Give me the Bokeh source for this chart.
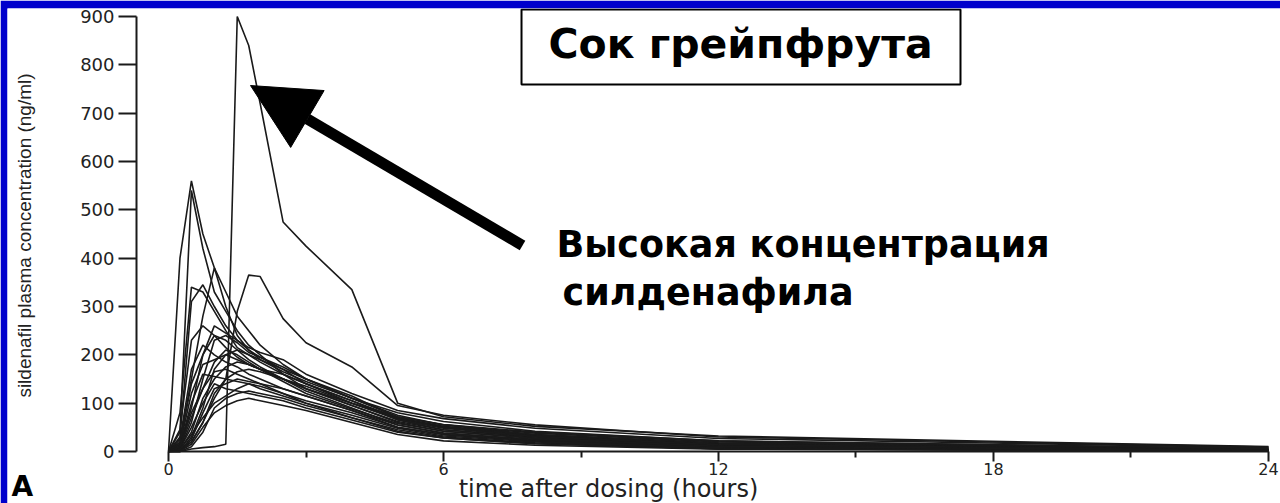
import math
from bokeh.plotting import figure
from bokeh.models import (Range1d, FixedTicker, Label, BoxAnnotation, Arrow, NormalHead)
from bokeh.embed import file_html
from bokeh.resources import INLINE

# ---- data: sampling times (hours) and plasma concentration per subject (ng/ml)
times = [0, 0.25, 0.5, 0.75, 1, 1.25, 1.5, 1.75, 2, 2.5, 3, 4, 5, 6, 8, 12, 24]

s01 = [0, 0, 5, 8, 10, 15, 900, 840, 720, 475, 425, 335, 100, 72, 52, 32, 10]
s02 = [0, 400, 560, 450, 380, 330, 280, 250, 220, 180, 150, 110, 75, 55, 35, 18, 4]
s03 = [0, 40, 540, 420, 330, 290, 250, 220, 200, 160, 130, 95, 62, 45, 30, 14, 3]
s04 = [0, 5, 20, 60, 110, 150, 290, 365, 362, 275, 225, 175, 95, 75, 55, 30, 9]
s05 = [0, 80, 340, 330, 290, 250, 215, 200, 185, 160, 140, 100, 68, 50, 33, 16, 4]
s06 = [0, 30, 310, 345, 300, 260, 230, 210, 190, 165, 145, 110, 80, 62, 42, 22, 6]
s07 = [0, 20, 150, 280, 380, 300, 240, 210, 195, 170, 140, 105, 70, 52, 35, 17, 4]
s08 = [0, 10, 90, 200, 260, 245, 230, 215, 205, 190, 160, 120, 85, 68, 48, 27, 8]
s09 = [0, 5, 60, 150, 230, 240, 225, 205, 195, 175, 150, 115, 70, 50, 32, 14, 3]
s10 = [0, 15, 120, 180, 190, 200, 210, 200, 190, 170, 150, 110, 72, 55, 38, 20, 5]
s11 = [0, 0, 30, 90, 170, 200, 190, 180, 170, 150, 125, 90, 55, 38, 24, 10, 2]
s12 = [0, 25, 170, 220, 200, 185, 175, 160, 150, 130, 115, 85, 50, 35, 22, 9, 2]
s13 = [0, 3, 40, 110, 150, 175, 185, 180, 170, 160, 140, 105, 65, 45, 30, 12, 3]
s14 = [0, 8, 70, 130, 165, 170, 160, 150, 140, 120, 100, 70, 45, 30, 18, 7, 1]
s15 = [0, 0, 20, 60, 120, 150, 165, 170, 165, 150, 130, 95, 60, 42, 28, 12, 3]
s16 = [0, 12, 100, 160, 155, 150, 145, 140, 135, 120, 105, 80, 50, 35, 22, 9, 2]
s17 = [0, 2, 25, 80, 130, 140, 150, 145, 140, 130, 115, 85, 55, 38, 25, 10, 2]
s18 = [0, 6, 50, 100, 140, 130, 125, 120, 115, 105, 90, 65, 40, 28, 16, 6, 1]
s19 = [0, 0, 10, 40, 90, 110, 120, 125, 120, 110, 95, 70, 42, 28, 16, 6, 1]
s20 = [0, 18, 140, 200, 240, 230, 210, 190, 175, 150, 130, 100, 72, 56, 40, 22, 6]
s21 = [0, 4, 35, 70, 100, 115, 130, 140, 130, 115, 100, 75, 48, 32, 20, 8, 2]
s22 = [0, 45, 230, 260, 240, 215, 195, 180, 170, 150, 135, 100, 66, 48, 31, 14, 3]
s23 = [0, 1, 15, 50, 80, 95, 105, 110, 105, 95, 85, 60, 35, 22, 13, 5, 1]
s24 = [0, 10, 80, 130, 185, 210, 200, 185, 170, 145, 120, 88, 58, 42, 27, 11, 2]

subjects = [s01, s02, s03, s04, s05, s06, s07, s08, s09, s10, s11, s12,
            s13, s14, s15, s16, s17, s18, s19, s20, s21, s22, s23, s24]

x_ticks = [0, 6, 12, 18, 24]
x_minor_ticks = [3, 9, 15, 21]
y_ticks = [0, 100, 200, 300, 400, 500, 600, 700, 800, 900]

title_text = "Сок грейпфрута"
note_line1 = "Высокая концентрация"
note_line2 = "силденафила"
x_label = "time after dosing (hours)"
y_label = "sildenafil plasma concentration (ng/ml)"
panel_letter = "A"

# ---- figure: blue slide edge = top/left border; frame covers the rest,
#      axes sit at fixed data positions inside the frame
p = figure(width=1280, height=503,
           x_range=Range1d(-3.513, 24.262), y_range=Range1d(-107.6, 916.6),
           output_backend="svg", toolbar_location=None,
           min_border_left=7, min_border_right=0,
           min_border_top=8, min_border_bottom=0)
p.outline_line_color = None
p.grid.visible = False
p.background_fill_color = "white"
p.border_fill_color = "#0000cc"

ink = "#1a1a1a"

for s in subjects:
    p.line(times, s, line_color=ink, line_width=1.6)

# x axis
xa = p.xaxis[0]
xa.fixed_location = 0
xa.bounds = (0, 24)
xa.ticker = FixedTicker(ticks=x_ticks, minor_ticks=x_minor_ticks)
xa.axis_line_width = 2
xa.axis_line_color = ink
xa.major_tick_line_width = 2
xa.minor_tick_line_width = 2
xa.major_tick_line_color = ink
xa.minor_tick_line_color = ink
xa.major_tick_in = 0
xa.major_tick_out = 10
xa.minor_tick_in = 0
xa.minor_tick_out = 6
xa.major_label_standoff = 2
xa.major_label_text_font = "DejaVu Sans"
xa.major_label_text_font_size = "16px"
xa.major_label_text_color = "#222222"

# y axis
ya = p.yaxis[0]
ya.fixed_location = -0.698
ya.bounds = (0, 900)
ya.ticker = FixedTicker(ticks=y_ticks, minor_ticks=[])
ya.axis_line_width = 2
ya.axis_line_color = ink
ya.major_tick_line_width = 2
ya.major_tick_line_color = ink
ya.major_tick_in = 0
ya.major_tick_out = 18
ya.minor_tick_out = 0
ya.minor_tick_in = 0
ya.major_label_standoff = 4
ya.major_label_text_font = "DejaVu Sans"
ya.major_label_text_font_size = "18px"
ya.major_label_text_color = "#222222"

# axis titles and panel letter
p.add_layout(Label(x=-3.142, y=446.9, text=y_label, angle=math.pi / 2,
                   text_align="center", text_baseline="middle",
                   text_font="Liberation Sans", text_font_size="19px",
                   text_color="#222222"))
p.add_layout(Label(x=9.6, y=-76.6, text=x_label, text_align="center",
                   text_baseline="alphabetic", text_font="DejaVu Sans",
                   text_font_size="24px", text_color="#222222"))
p.add_layout(Label(x=-3.425, y=-72.4, text=panel_letter, text_align="left",
                   text_baseline="alphabetic", text_font="DejaVu Sans",
                   text_font_style="bold", text_font_size="28px",
                   text_color="black"))

# title box
p.add_layout(BoxAnnotation(left=7.702, right=17.28, top=914.5, bottom=759.3,
                           fill_color="white", fill_alpha=1.0,
                           line_color="black", line_width=2, line_alpha=1.0))
p.add_layout(Label(x=12.48, y=842.9, text=title_text, text_align="center",
                   text_baseline="alphabetic", text_font="DejaVu Sans",
                   text_font_style="bold", text_font_size="41px",
                   text_color="black"))

# annotation text + arrow
p.add_layout(Label(x=8.466, y=427.9, text=note_line1, text_align="left",
                   text_baseline="alphabetic", text_font="DejaVu Sans",
                   text_font_style="bold", text_font_size="36.5px",
                   text_color="black"))
p.add_layout(Label(x=8.597, y=328.6, text=note_line2, text_align="left",
                   text_baseline="alphabetic", text_font="DejaVu Sans",
                   text_font_style="bold", text_font_size="36.5px",
                   text_color="black"))
p.add_layout(Arrow(end=NormalHead(size=66, fill_color="black", line_color="black"),
                   x_start=7.724, y_start=426.2, x_end=1.789, y_end=757.2,
                   line_color="black", line_width=11))

open("out.html", "w").write(file_html(p, INLINE))
